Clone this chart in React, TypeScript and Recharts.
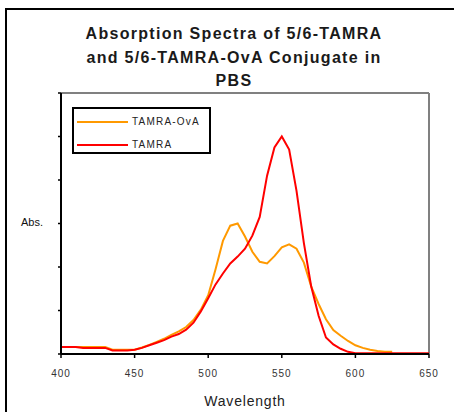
import { Legend, Line, LineChart, ReferenceLine, XAxis, YAxis } from "recharts";

// wavelength (nm)
const wavelengths = [
  400, 405, 410, 415, 420, 425, 430, 435, 440, 445, 450, 455, 460, 465, 470, 475, 480, 485, 490, 495,
  500, 505, 510, 515, 520, 525, 530, 535, 540, 545, 550, 555, 560, 565, 570, 575, 580, 585, 590, 595,
  600, 605, 610, 615, 620, 625, 630, 635, 640, 645, 650,
];

// absorbance, TAMRA-OvA conjugate (ends at 625 nm)
const tamraOva = [
  0.16, 0.16, 0.16, 0.16, 0.16, 0.16, 0.16, 0.1, 0.1, 0.1, 0.1, 0.15, 0.21, 0.28, 0.35, 0.44, 0.52, 0.62, 0.78, 1.02,
  1.35, 1.95, 2.6, 2.95, 3.0, 2.7, 2.35, 2.12, 2.08, 2.25, 2.45, 2.52, 2.42, 2.1, 1.55, 1.15, 0.8, 0.55, 0.42, 0.3,
  0.2, 0.14, 0.1, 0.07, 0.05, 0.05, null, null, null, null, null,
];

// absorbance, free TAMRA
const tamra = [
  0.16, 0.16, 0.16, 0.14, 0.14, 0.14, 0.14, 0.08, 0.08, 0.08, 0.1, 0.14, 0.2, 0.26, 0.32, 0.4, 0.46, 0.56, 0.72, 0.98,
  1.28, 1.6, 1.85, 2.08, 2.24, 2.42, 2.72, 3.15, 4.1, 4.75, 5.0, 4.7, 3.75, 2.55, 1.55, 0.88, 0.38, 0.22, 0.12, 0.05,
  0.02, 0.02, 0.02, 0.02, 0.02, 0.02, 0.02, 0.02, 0.02, 0.02, 0.02,
];

const seriesNames = ["TAMRA-OvA", "TAMRA"];
const xTicks = [400, 450, 500, 550, 600, 650];
const yTicks = [0, 1, 2, 3, 4, 5, 6];

const data = wavelengths.map((wl, i) => ({ wl, ova: tamraOva[i], tamra: tamra[i] }));

const font = "'Liberation Sans', Arial, sans-serif";

function LegendBox({ payload }: any) {
  const items = [...(payload || [])].sort(
    (a: any, b: any) => seriesNames.indexOf(a.value) - seriesNames.indexOf(b.value)
  );
  return (
    <div
      style={{
        width: 135,
        height: 42,
        border: "2px solid #000",
        background: "#fff",
        boxSizing: "content-box",
        paddingTop: 1,
      }}
    >
      {items.map((p: any) => (
        <div key={p.value} style={{ display: "flex", alignItems: "center", height: 23 }}>
          <div style={{ width: 51, height: 2, background: p.color, marginLeft: 3, marginRight: 4 }} />
          <span style={{ fontFamily: font, fontSize: 10, letterSpacing: 1.2, color: "#222" }}>{p.value}</span>
        </div>
      ))}
    </div>
  );
}

export default function App() {
  return (
    <div style={{ position: "absolute", left: 0, top: 0, width: 454, height: 412, overflow: "hidden", background: "#fff" }}>
      <div style={{ position: "absolute", left: 5, top: 8, width: 470, height: 430, border: "2px solid #000" }} />
      <div
        style={{
          position: "absolute",
          left: 0,
          top: 22,
          width: 468,
          textAlign: "center",
          fontFamily: font,
          fontWeight: "bold",
          fontSize: 16,
          letterSpacing: 1.3,
          lineHeight: "23.5px",
          color: "#1a1a1a",
        }}
      >
        Absorption Spectra of 5/6-TAMRA
        <br />
        and 5/6-TAMRA-OvA Conjugate in
        <br />
        PBS
      </div>
      <div style={{ position: "absolute", left: 21, top: 216, fontFamily: font, fontSize: 11, color: "#111" }}>Abs.</div>
      <div
        style={{
          position: "absolute",
          left: 0,
          width: 490,
          top: 393,
          textAlign: "center",
          fontFamily: font,
          fontSize: 14,
          letterSpacing: 0.8,
          color: "#222",
        }}
      >
        Wavelength
      </div>
      <div style={{ position: "absolute", left: 0, top: 0 }}>
        <LineChart width={454} height={412} data={data} margin={{ top: 93, right: 25, bottom: 28, left: 0 }}>
          <XAxis
            dataKey="wl"
            type="number"
            domain={[400, 650]}
            ticks={xTicks}
            height={30}
            tickSize={4}
            tickMargin={12}
            axisLine={{ stroke: "#000", strokeWidth: 2 }}
            tickLine={{ stroke: "#000", strokeWidth: 1.5 }}
            tick={{ fill: "#333", fontSize: 10, fontFamily: font, letterSpacing: 1 }}
          />
          <YAxis
            type="number"
            domain={[0, 6]}
            ticks={yTicks}
            width={61}
            tickSize={3}
            tickFormatter={() => ""}
            axisLine={{ stroke: "#000", strokeWidth: 2 }}
            tickLine={{ stroke: "#000", strokeWidth: 1.5 }}
          />
          <ReferenceLine y={6} stroke="#808080" strokeWidth={2} />
          <ReferenceLine x={650} stroke="#808080" strokeWidth={2} />
          <Legend
            layout="horizontal"
            align="center"
            verticalAlign="middle"
            content={<LegendBox />}
            wrapperStyle={{ position: "absolute", left: 72, top: 107, width: 140 }}
          />
          <Line
            name="TAMRA-OvA"
            dataKey="ova"
            type="linear"
            stroke="#FF9900"
            strokeWidth={2}
            dot={false}
            isAnimationActive={false}
          />
          <Line
            name="TAMRA"
            dataKey="tamra"
            type="linear"
            stroke="#FF0000"
            strokeWidth={2}
            dot={false}
            isAnimationActive={false}
          />
        </LineChart>
      </div>
    </div>
  );
}
